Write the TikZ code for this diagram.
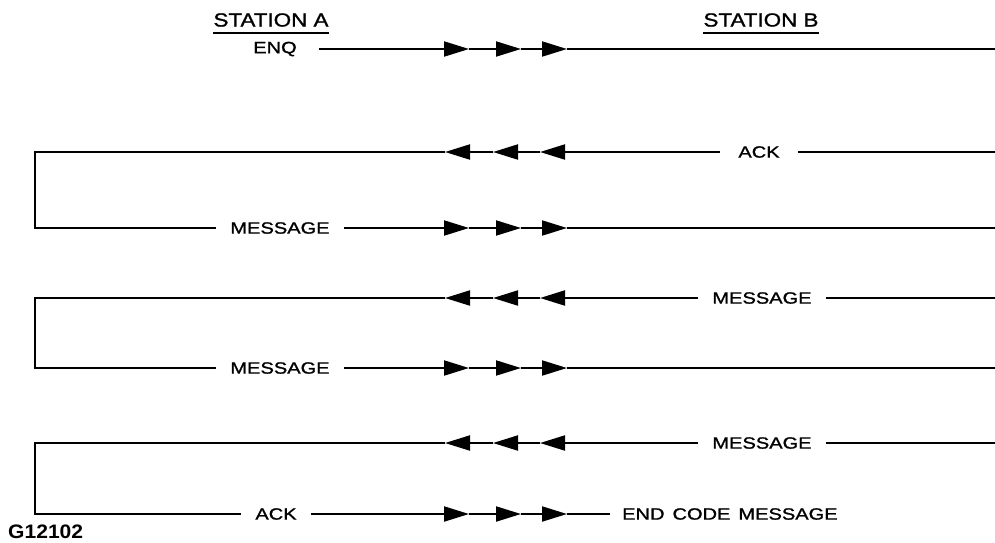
\documentclass[tikz,border=0pt]{standalone}
\usepackage{fontspec}
\usetikzlibrary{arrows.meta}
\newfontfamily\labelfont[FakeStretch=1.23,FakeBold=1.2]{Liberation Sans}
\newfontfamily\headfont[FakeStretch=1.18,FakeBold=1.2]{Liberation Sans}
\newfontfamily\tagfont[FakeStretch=1.08]{Liberation Sans}
\newcommand\widewords{\spaceskip=8pt\relax}
\begin{document}
\begin{tikzpicture}[x=1pt,y=-1pt,
  wire/.style={line width=2pt},
  tipped/.style={wire,-{Triangle[length=25pt,width=15pt]}},
  lbl/.style={inner xsep=14pt,inner ysep=0pt,font=\labelfont\fontsize{16.3}{19}\selectfont},
  head/.style={inner sep=0pt,font=\headfont\fontsize{19}{22}\selectfont},
  uline/.style={line width=1.6pt}]
\useasboundingbox (0,0) rectangle (995,542);

% columns: left return edge, right edge, arrow tips
\coordinate (xl) at (35,0);
\coordinate (xr) at (995,0);
\coordinate (r1) at (469,0);
\coordinate (r2) at (521,0);
\coordinate (r3) at (567,0);
\coordinate (l1) at (445,0);
\coordinate (l2) at (493,0);
\coordinate (l3) at (540,0);

% station headings
\node[head] (sa) at (271,20) {STATION A};
\node[head] (sb) at (761,20) {STATION B};
\draw[uline] ([yshift=-6pt]sa.south west) -- ([yshift=-6pt]sa.south east);
\draw[uline] ([yshift=-6pt]sb.south west) -- ([yshift=-6pt]sb.south east);

% labels
\node[lbl,inner xsep=22pt] (enq) at (275,49) {ENQ};
\node[lbl,inner xsep=18pt] (ackb) at (759,152) {ACK};
\node[lbl] (msga1) at (280,228) {MESSAGE};
\node[lbl] (msgb1) at (762,298) {MESSAGE};
\node[lbl] (msga2) at (280,368) {MESSAGE};
\node[lbl] (msgb2) at (762,443) {MESSAGE};
\node[lbl] (acka) at (276,514) {ACK};
\node[lbl,anchor=west,inner xsep=12pt] (endc) at (610,514) {\widewords END CODE MESSAGE};
\node[anchor=base west,inner sep=0pt,font=\tagfont\bfseries\fontsize{19.5}{22}\selectfont] (tag) at (8,538) {G12102};

% ENQ, A to B
\draw[tipped] (enq.east) -- (enq -| r1);
\draw[tipped] (enq -| r1) -- (enq -| r2);
\draw[tipped] (enq -| r2) -- (enq -| r3);
\draw[wire] (enq -| r3) -- (enq -| xr);

% ACK, B to A, returning into MESSAGE
\draw[wire] (ackb -| xr) -- (ackb.east);
\draw[tipped] (ackb.west) -- (ackb -| l3);
\draw[tipped] (ackb -| l3) -- (ackb -| l2);
\draw[tipped] (ackb -| l2) -- (ackb -| l1);
\draw[wire] (ackb -| l1) -- (ackb -| xl) -- (msga1 -| xl) -- (msga1.west);

% MESSAGE, A to B
\draw[tipped] (msga1.east) -- (msga1 -| r1);
\draw[tipped] (msga1 -| r1) -- (msga1 -| r2);
\draw[tipped] (msga1 -| r2) -- (msga1 -| r3);
\draw[wire] (msga1 -| r3) -- (msga1 -| xr);

% MESSAGE, B to A
\draw[wire] (msgb1 -| xr) -- (msgb1.east);
\draw[tipped] (msgb1.west) -- (msgb1 -| l3);
\draw[tipped] (msgb1 -| l3) -- (msgb1 -| l2);
\draw[tipped] (msgb1 -| l2) -- (msgb1 -| l1);
\draw[wire] (msgb1 -| l1) -- (msgb1 -| xl) -- (msga2 -| xl) -- (msga2.west);

% MESSAGE, A to B
\draw[tipped] (msga2.east) -- (msga2 -| r1);
\draw[tipped] (msga2 -| r1) -- (msga2 -| r2);
\draw[tipped] (msga2 -| r2) -- (msga2 -| r3);
\draw[wire] (msga2 -| r3) -- (msga2 -| xr);

% MESSAGE, B to A
\draw[wire] (msgb2 -| xr) -- (msgb2.east);
\draw[tipped] (msgb2.west) -- (msgb2 -| l3);
\draw[tipped] (msgb2 -| l3) -- (msgb2 -| l2);
\draw[tipped] (msgb2 -| l2) -- (msgb2 -| l1);
\draw[wire] (msgb2 -| l1) -- (msgb2 -| xl) -- (acka -| xl) -- (acka.west);

% final ACK, ending the exchange
\draw[tipped] (acka.east) -- (acka -| r1);
\draw[tipped] (acka -| r1) -- (acka -| r2);
\draw[tipped] (acka -| r2) -- (acka -| r3);
\draw[wire] (acka -| r3) -- (endc.west);
\end{tikzpicture}
\end{document}
